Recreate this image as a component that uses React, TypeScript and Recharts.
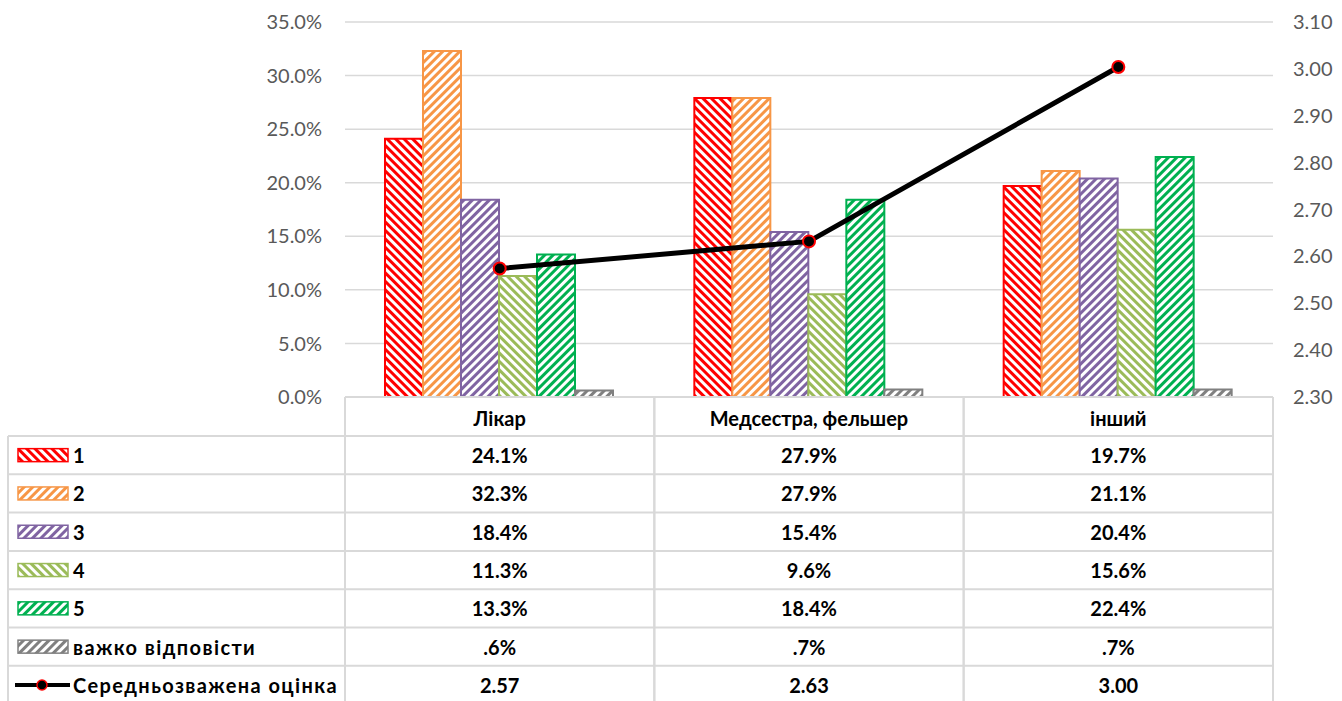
import React from 'react';
import { ComposedChart, Bar, Line, XAxis, YAxis, CartesianGrid } from 'recharts';

const categories = ['Лікар', 'Медсестра, фельшер', 'інший'];
const series1 = [24.1, 27.9, 19.7];
const series2 = [32.3, 27.9, 21.1];
const series3 = [18.4, 15.4, 20.4];
const series4 = [11.3, 9.6, 15.6];
const series5 = [13.3, 18.4, 22.4];
const hardToSay = [0.6, 0.7, 0.7];
const weightedMean = [2.574, 2.632, 3.004];
const leftTicks = [0, 5, 10, 15, 20, 25, 30, 35];
const rightTicks = [2.3, 2.4, 2.5, 2.6, 2.7, 2.8, 2.9, 3.0, 3.1];

const seriesDefs = [
  { key: 's1', name: '1', color: '#FF0000', dir: 'down', values: series1 },
  { key: 's2', name: '2', color: '#F79646', dir: 'up', values: series2 },
  { key: 's3', name: '3', color: '#8064A2', dir: 'up', values: series3 },
  { key: 's4', name: '4', color: '#9BBB59', dir: 'down', values: series4 },
  { key: 's5', name: '5', color: '#00B050', dir: 'up', values: series5 },
  { key: 's6', name: 'важко відповісти', color: '#808080', dir: 'up', values: hardToSay },
];
const lineName = 'Середньозважена оцінка';

const data = categories.map((c, i) => {
  const row: any = { cat: c, mean: weightedMean[i] };
  seriesDefs.forEach((s) => (row[s.key] = s.values[i]));
  return row;
});

const FONT = 'Lato, "Open Sans", sans-serif';
const GRID = '#d9d9d9';
const HEADER_H = 39;
const ROW_H = 38.3;
const TABLE_LEFT = 8;
const TFS = 20;

const fmtPct = (v: number) => {
  const s = v.toFixed(1);
  return (s.startsWith('0') ? s.slice(1) : s) + '%';
};

function TableTick(props: any) {
  const { x, y, payload, index } = props;
  const off = payload && payload.offset ? payload.offset : 154.67;
  const left = x - off;
  const right = x + off;
  const nRows = seriesDefs.length + 1;
  const bottom = y + HEADER_H + nRows * ROW_H;
  const els: any[] = [];
  els.push(<line key="vl" x1={left} x2={left} y1={y} y2={bottom} stroke={GRID} strokeWidth={2} />);
  els.push(<line key="vr" x1={right} x2={right} y1={y} y2={bottom} stroke={GRID} strokeWidth={2} />);
  for (let r = 0; r <= nRows; r++) {
    const ly = y + HEADER_H + r * ROW_H;
    els.push(<line key={'h' + r} x1={left} x2={right} y1={ly} y2={ly} stroke={GRID} strokeWidth={2} />);
  }
  els.push(
    <text key="hdr" x={x} y={y + HEADER_H / 2 + 1} textAnchor="middle" dominantBaseline="central"
      fontFamily={FONT} fontWeight="bold" fontSize={TFS} fill="#000">{payload.value}</text>
  );
  seriesDefs.forEach((s, r) => {
    els.push(
      <text key={'v' + r} x={x} y={y + HEADER_H + r * ROW_H + ROW_H / 2} textAnchor="middle" dominantBaseline="central"
        fontFamily={FONT} fontWeight="bold" fontSize={TFS} fill="#000">{fmtPct(s.values[index])}</text>
    );
  });
  els.push(
    <text key="vm" x={x} y={y + HEADER_H + seriesDefs.length * ROW_H + ROW_H / 2} textAnchor="middle" dominantBaseline="central"
      fontFamily={FONT} fontWeight="bold" fontSize={TFS} fill="#000">{weightedMean[index].toFixed(2)}</text>
  );
  if (index === 0) {
    els.push(<line key="ll" x1={TABLE_LEFT} x2={TABLE_LEFT} y1={y + HEADER_H} y2={bottom} stroke={GRID} strokeWidth={2} />);
    for (let r = 0; r <= nRows; r++) {
      const ly = y + HEADER_H + r * ROW_H;
      els.push(<line key={'lh' + r} x1={TABLE_LEFT} x2={left} y1={ly} y2={ly} stroke={GRID} strokeWidth={2} />);
    }
    seriesDefs.forEach((s, r) => {
      const cy = y + HEADER_H + r * ROW_H + ROW_H / 2;
      els.push(<rect key={'k' + r} x={TABLE_LEFT + 10} y={cy - 6.5} width={50} height={13}
        fill={`url(#pat-${s.key})`} stroke={s.color} strokeWidth={1.5} />);
      els.push(
        <text key={'kt' + r} x={TABLE_LEFT + 65} y={cy} dominantBaseline="central"
          fontFamily={FONT} fontWeight="bold" fontSize={TFS} letterSpacing={1.4} fill="#000">{s.name}</text>
      );
    });
    const cy = y + HEADER_H + seriesDefs.length * ROW_H + ROW_H / 2;
    els.push(<line key="kl" x1={TABLE_LEFT + 7} x2={TABLE_LEFT + 62} y1={cy} y2={cy} stroke="#000" strokeWidth={4} />);
    els.push(<circle key="kc" cx={TABLE_LEFT + 34} cy={cy} r={5} fill="#000" stroke="#FF0000" strokeWidth={1.5} />);
    els.push(
      <text key="klt" x={TABLE_LEFT + 65} y={cy} dominantBaseline="central"
        fontFamily={FONT} fontWeight="bold" fontSize={TFS} letterSpacing={1.4} fill="#000">{lineName}</text>
    );
  }
  return <g>{els}</g>;
}

export default function App() {
  return (
    <div style={{ position: 'absolute', left: 0, top: 0, width: 1342, height: 701, background: '#fff' }}>
      <ComposedChart width={1342} height={701} data={data}
        margin={{ top: 22, right: 0, bottom: 0, left: 0 }} barCategoryGap={40} barGap={0}>
        <defs>
          {seriesDefs.map((s) => (
            <pattern key={s.key} id={`pat-${s.key}`} patternUnits="userSpaceOnUse" width={6} height={6}
              patternTransform={s.dir === 'down' ? 'rotate(-45)' : 'rotate(45)'}>
              <rect x={0} y={0} width={6} height={6} fill="#fff" />
              <rect x={0} y={0} width={3} height={6} fill={s.color} />
            </pattern>
          ))}
        </defs>
        <CartesianGrid yAxisId="left" vertical={false} stroke={GRID} strokeWidth={1.5} />
        <XAxis dataKey="cat" height={304} interval={0} tickSize={0} tickMargin={0} tickLine={false}
          axisLine={{ stroke: GRID, strokeWidth: 2 }} tick={<TableTick />} />
        <YAxis yAxisId="left" width={345} domain={[0, 35]} ticks={leftTicks} axisLine={false} tickLine={false}
          tickSize={0} tickMargin={23} tickFormatter={(v: number) => v.toFixed(1) + '%'}
          tick={{ fill: '#595959', fontSize: 20, fontFamily: FONT }} />
        <YAxis yAxisId="right" orientation="right" width={69} domain={[2.3, 3.1]} ticks={rightTicks}
          axisLine={false} tickLine={false} tickSize={0} tickMargin={20}
          tickFormatter={(v: number) => v.toFixed(2)}
          tick={{ fill: '#595959', fontSize: 20, fontFamily: FONT, textAnchor: 'start' }} />
        {seriesDefs.map((s) => (
          <Bar key={s.key} yAxisId="left" dataKey={s.key} name={s.name} fill={`url(#pat-${s.key})`}
            stroke={s.color} strokeWidth={2} isAnimationActive={false} />
        ))}
        <Line yAxisId="right" dataKey="mean" name={lineName} stroke="#000" strokeWidth={5}
          dot={{ r: 6, fill: '#000', stroke: '#FF0000', strokeWidth: 2 }} isAnimationActive={false} />
      </ComposedChart>
    </div>
  );
}
